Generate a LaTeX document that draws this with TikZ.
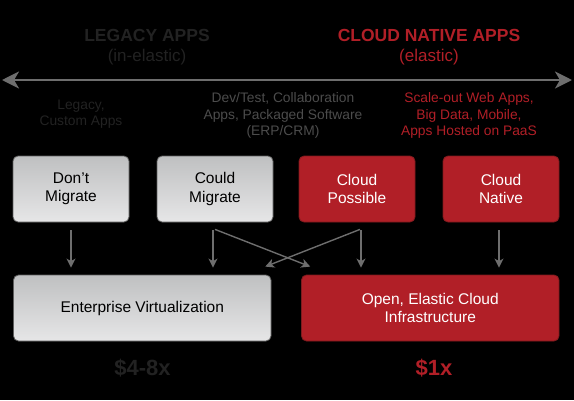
\documentclass[tikz,border=0pt]{standalone}
\usepackage{fontspec}
\setmainfont{Liberation Sans}
\usetikzlibrary{arrows.meta}
\definecolor{cred}{HTML}{B11F27}
\definecolor{credborder}{HTML}{7E1B1E}
\definecolor{graytop}{HTML}{BFC0C1}
\definecolor{graybot}{HTML}{E6E6E7}
\definecolor{grayborder}{HTML}{5E5E5E}
\definecolor{arrgray}{HTML}{6E6E6E}
\definecolor{dimtext}{HTML}{222222}
\definecolor{midtext}{HTML}{4C4C4C}
\begin{document}
\begin{tikzpicture}[x=1pt,y=-1pt,
  boxbase/.style={rectangle, rounded corners=5pt, line width=0.8pt, align=center,
    minimum height=66pt, inner sep=2pt, font=\fontsize{15.5}{18.5}\selectfont},
  graybox/.style={boxbase, draw=grayborder, top color=graytop, bottom color=graybot, text=black},
  redbox/.style={boxbase, draw=credborder, fill=cred, text=white},
  small/.style={minimum width=116pt},
  wide/.style={minimum width=257.5pt},
  arr/.style={draw=arrgray, line width=1.4pt, -{Stealth[length=9pt,width=9pt,inset=2.5pt]}},
  bigarr/.style={draw=arrgray, line width=2.6pt, {Stealth[length=17pt,width=17pt,inset=5pt]}-{Stealth[length=17pt,width=17pt,inset=5pt]}},
  title/.style={font=\fontsize{17.5}{20}\selectfont\bfseries, align=center},
  subtitle/.style={font=\fontsize{17}{20}\selectfont, align=center},
  note/.style={font=\fontsize{13.8}{16.5}\selectfont, align=center},
  cost/.style={font=\fontsize{22}{24}\selectfont\bfseries}
]
\fill[black] (0,0) rectangle (574,400);
\useasboundingbox (0,0) rectangle (574,400);

% headings
\node[title, text=dimtext] (legt) at (147,35) {LEGACY APPS};
\node[subtitle, text=dimtext] (legs) at (147,57) {(in-elastic)};
\node[title, text=cred] (cloudt) at (429,35) {CLOUD NATIVE APPS};
\node[subtitle, text=cred] (clouds) at (429,57) {(elastic)};

% big double arrow
\coordinate (aL) at (2,80);
\coordinate (aR) at (572,80);
\draw[bigarr] (aL) -- (aR);

% notes
\node[note, text=dimtext] (n1) at (81,114) {Legacy,\\Custom Apps};
\node[note, text=midtext] (n2) at (283,115.5) {Dev/Test, Collaboration\\Apps, Packaged Software\\(ERP/CRM)};
\node[note, text=cred] (n3) at (469,115.5) {Scale-out Web Apps,\\Big Data, Mobile,\\Apps Hosted on PaaS};

% top boxes
\node[graybox, small] (dm) at (71,189) {Don't\\Migrate};
\node[graybox, small] (cm) at (215,189) {Could\\Migrate};
\node[redbox, small] (cp) at (357,189) {Cloud\\Possible};
\node[redbox, small] (cn) at (501,189) {Cloud\\Native};

% bottom boxes
\node[graybox, wide] (ev) at (142.25,308) {Enterprise Virtualization};
\node[redbox, wide] (oc) at (430.25,308) {Open, Elastic Cloud\\Infrastructure};

% connectors
\draw[arr] ([yshift=-8pt]dm.south) -- ([yshift=7pt]dm.south |- ev.north);
\draw[arr] ([xshift=-2pt,yshift=-8pt]cm.south) -- ([xshift=-2pt,yshift=7pt]cm.south |- ev.north);
\draw[arr] ([xshift=4pt,yshift=-8pt]cp.south) -- ([xshift=4pt,yshift=7pt]cp.south |- oc.north);
\draw[arr] ([xshift=-2pt,yshift=-8pt]cn.south) -- ([xshift=-2pt,yshift=7pt]cn.south |- oc.north);
\draw[arr] ([xshift=0pt,yshift=-7pt]cm.south) -- ([xshift=-120pt,yshift=8pt]oc.north);
\draw[arr] ([xshift=3pt,yshift=-7pt]cp.south) -- ([xshift=123pt,yshift=8pt]ev.north);

% costs
\node[cost, text=dimtext] (c1) at (142.5,368) {\$4-8x};
\node[cost, text=cred] (c2) at (434,368) {\$1x};
\end{tikzpicture}
\end{document}
